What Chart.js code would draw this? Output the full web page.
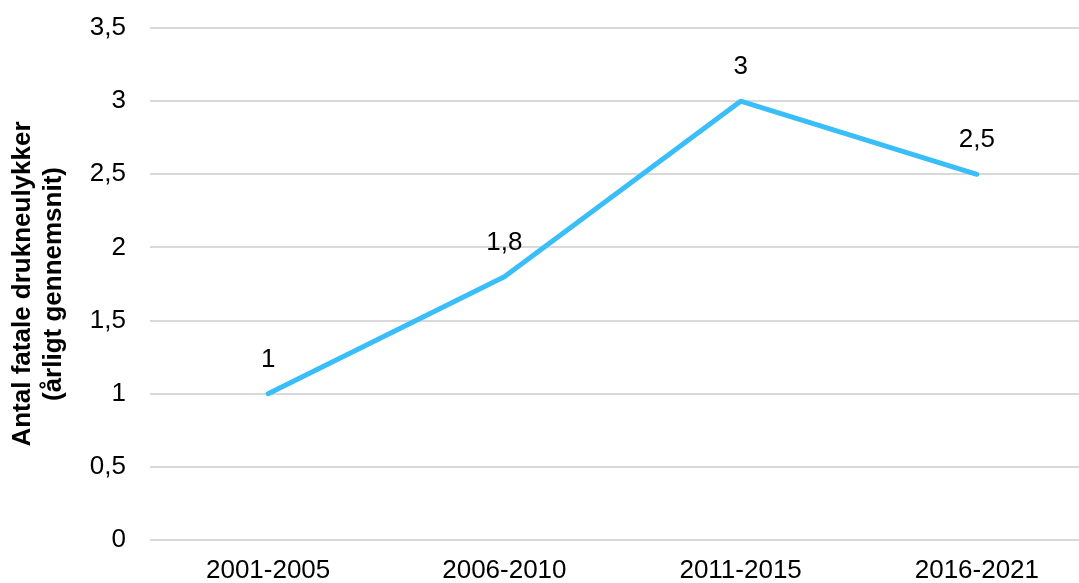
<!DOCTYPE html>
<html lang="da">
<head>
<meta charset="utf-8">
<title>Fatale drukneulykker</title>
<script src="https://cdn.jsdelivr.net/npm/chart.js@4/dist/chart.umd.min.js"></script>
<style>
  html, body { margin: 0; padding: 0; background: #fff; overflow: hidden; }
  #wrap { width: 1095px; height: 583px; }
</style>
</head>
<body>
<div id="wrap">
  <canvas id="drownChart" width="1095" height="583"></canvas>
</div>
<script>
// Periods and yearly average of fatal drownings
const periods = ["2001-2005", "2006-2010", "2011-2015", "2016-2021"]
const drowningAvg = [1, 1.8, 3, 2.5]

// Y axis range
const yMin = 0
const yMax = 3.5
const yStep = 0.5

const axisTitle = ["Antal fatale drukneulykker", "(årligt gennemsnit)"]

const fontFamily = '"Liberation Sans", Arial, Helvetica, sans-serif'
const fontSize = 26
const lineColor = "#3ABEF9"
const gridColor = "#d9d9d9"

// Danish decimal comma
function formatNum(v) {
  return String(v).replace(".", ",")
}

// Draws the value above each point
const valueLabels = {
  id: "valueLabels",
  afterDatasetsDraw(chart) {
    const ctx = chart.ctx
    const meta = chart.getDatasetMeta(0)
    const values = chart.data.datasets[0].data
    ctx.save()
    ctx.font = fontSize + "px " + fontFamily
    ctx.fillStyle = "#000"
    ctx.textAlign = "center"
    ctx.textBaseline = "middle"
    meta.data.forEach((pt, i) => {
      ctx.fillText(formatNum(values[i]), pt.x, pt.y - 34)
    })
    ctx.restore()
  },
}

const ctx = document.getElementById("drownChart")

new Chart(ctx, {
  type: "line",
  data: {
    labels: periods,
    datasets: [
      {
        label: "Drukneulykker",
        data: drowningAvg,
        borderColor: lineColor,
        backgroundColor: lineColor,
        borderWidth: 5,
        borderCapStyle: "round",
        borderJoinStyle: "round",
        pointRadius: 0,
        tension: 0,
      },
    ],
  },
  options: {
    responsive: false,
    animation: false,
    layout: {
      padding: { top: 28, left: 0, right: 0, bottom: 0 },
    },
    plugins: {
      legend: { display: false },
      tooltip: { enabled: false },
    },
    scales: {
      x: {
        offset: true,
        grid: { display: false, drawTicks: false },
        border: { display: false },
        ticks: {
          color: "#000",
          padding: 15,
          font: { family: fontFamily, size: fontSize },
        },
        afterFit(scale) {
          scale.height = 43
        },
      },
      y: {
        min: yMin,
        max: yMax,
        border: { display: false },
        grid: {
          color: gridColor,
          lineWidth: 2,
          drawTicks: false,
        },
        ticks: {
          stepSize: yStep,
          color: "#000",
          padding: 24,
          font: { family: fontFamily, size: fontSize },
          callback: (value) => formatNum(value),
        },
        title: {
          display: true,
          text: axisTitle,
          color: "#000",
          padding: { top: 7, bottom: 0 },
          font: { family: fontFamily, size: fontSize, weight: "bold", lineHeight: 1.2 },
        },
        afterFit(scale) {
          scale.width = 150
          // keep the tick padding from pushing the plot area down
          scale.paddingTop = 14
          scale.paddingBottom = 14
        },
      },
    },
  },
  plugins: [valueLabels],
})
</script>
</body>
</html>
